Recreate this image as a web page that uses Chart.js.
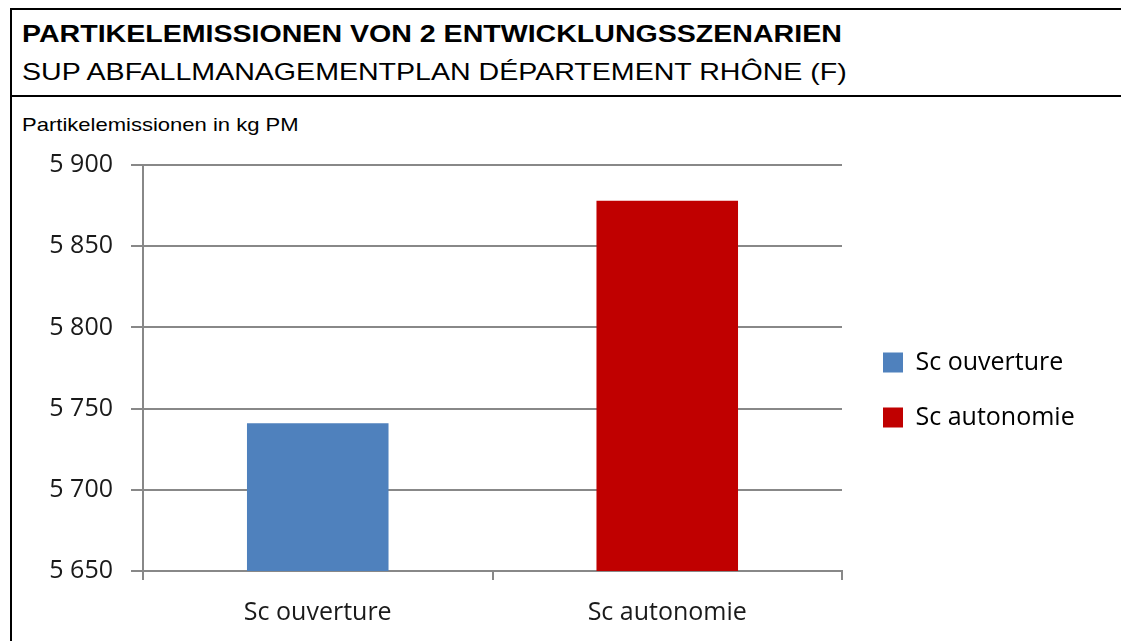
<!DOCTYPE html>
<html>
<head>
<meta charset="utf-8">
<script src="https://cdn.jsdelivr.net/npm/chart.js@4.4.1/dist/chart.umd.min.js"></script>
<style>
    html, body { margin: 0; padding: 0; background: #fff; }
    body { width: 1121px; height: 641px; position: relative; overflow: hidden; }
    .frame {
        position: absolute; left: 10px; top: 8px; width: 1200px; height: 700px;
        border-left: 2px solid #000; border-top: 2px solid #000;
    }
    .divider { position: absolute; left: 10px; top: 95px; width: 1200px; height: 2px; background: #000; }
    .txt {
        position: absolute; left: 22px; white-space: nowrap; color: #000;
        font-family: Arial, "Liberation Sans", sans-serif;
        transform: scaleX(1.19); transform-origin: left top;
    }
    #title { top: 21.7px; font-size: 24px; line-height: 24px; font-weight: bold; }
    #subtitle { top: 59.7px; font-size: 24px; line-height: 24px; }
    #unit { top: 116px; font-size: 18.5px; line-height: 18.5px; }
    #stockChart { position: absolute; left: 0; top: 0; }
</style>
</head>
<body>
<div class="frame"></div>
<div class="divider"></div>
<div class="txt" id="title">PARTIKELEMISSIONEN VON 2 ENTWICKLUNGSSZENARIEN</div>
<div class="txt" id="subtitle">SUP ABFALLMANAGEMENTPLAN DÉPARTEMENT RHÔNE (F)</div>
<div class="txt" id="unit">Partikelemissionen in kg PM</div>
<canvas id="stockChart" width="1121" height="641"></canvas>
<script>
const categories = ["Sc ouverture", "Sc autonomie"];
const emissions = [5741, 5878];
const barColors = ["#4F81BD", "#C00000"];
const yTicks = [5650, 5700, 5750, 5800, 5850, 5900];

const axisFont = { family: "'Open Sans', sans-serif", size: 25 };
const gridGrey = "#888888";

// legend width, so that the plot ends at x=841 and the legend boxes sit near x=882
const legendPad = 30;
const legendShiftX = 11;
const legendShiftY = -8;
const measure = document.createElement("canvas").getContext("2d");
measure.font = "25px 'Open Sans', sans-serif";
const textW = Math.max(...categories.map(c => measure.measureText(c).width));
const legendW = legendPad + 20 + 12.5 + textW;
const padRight = Math.max(0, 1121 - 841 - legendShiftX - legendW);

// nudge the legend a bit away from the plot
const legendNudge = {
    id: "legendNudge",
    afterLayout(chart) {
        const l = chart.legend;
        l.left += legendShiftX; l.right += legendShiftX;
        l.top += legendShiftY; l.bottom += legendShiftY;
    }
};

const ctx = document.getElementById("stockChart").getContext("2d");
const chart = new Chart(ctx, {
    type: "bar",
    data: {
        labels: categories,
        datasets: [{
            data: emissions,
            backgroundColor: barColors,
            borderWidth: 0,
            categoryPercentage: 1,
            barPercentage: 0.405
        }]
    },
    options: {
        responsive: false,
        animation: false,
        layout: {
            padding: { top: 165, left: 0, bottom: 10, right: padRight }
        },
        scales: {
            x: {
                offset: true,
                grid: {
                    offset: true,
                    drawOnChartArea: false,
                    drawTicks: true,
                    tickLength: 9,
                    color: gridGrey,
                    lineWidth: 2
                },
                border: { color: gridGrey, width: 2 },
                ticks: { font: axisFont, color: "#1a1a1a", padding: 18 },
                afterFit: s => { s.height = 60; }
            },
            y: {
                min: 5650,
                max: 5900,
                afterBuildTicks: s => { s.ticks = yTicks.map(v => ({ value: v })); },
                grid: { color: gridGrey, lineWidth: 2, tickLength: 12 },
                border: { color: gridGrey, width: 2 },
                ticks: {
                    font: axisFont,
                    color: "#1a1a1a",
                    padding: 18,
                    callback: v => String(v).replace(/\B(?=(\d{3})+(?!\d))/g, " ")
                },
                afterFit: s => { s.width = 143; }
            }
        },
        plugins: {
            legend: {
                position: "right",
                labels: {
                    font: axisFont,
                    color: "#1a1a1a",
                    boxWidth: 20,
                    boxHeight: 20,
                    padding: legendPad,
                    generateLabels: () => categories.map((c, i) => ({
                        text: c,
                        fillStyle: barColors[i],
                        strokeStyle: barColors[i],
                        lineWidth: 0,
                        hidden: false,
                        index: i
                    }))
                }
            },
            tooltip: { enabled: false }
        }
    },
    plugins: [legendNudge]
});
</script>
</body>
</html>
